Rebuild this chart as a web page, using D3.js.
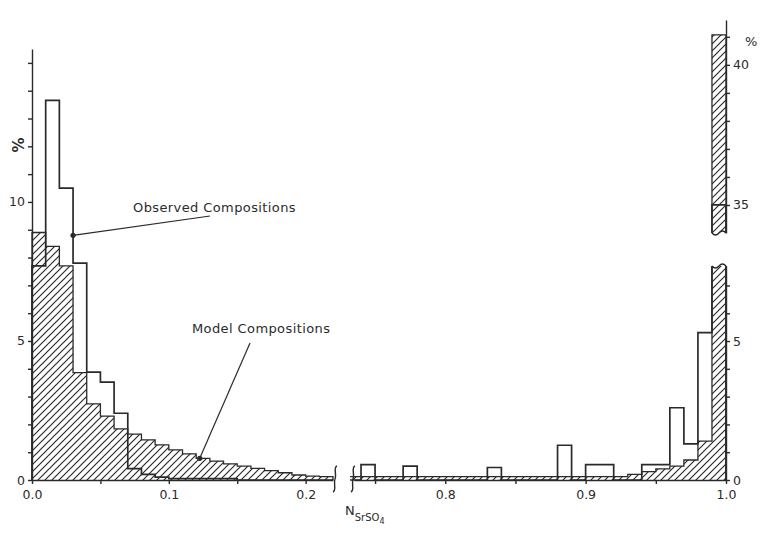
<!DOCTYPE html>
<html>
<head>
<meta charset="utf-8">
<script src="https://cdn.jsdelivr.net/npm/d3@7"></script>
<style>
  body { margin: 0; background: #fff; }
  text { font-family: "DejaVu Sans", sans-serif; fill: #2b2b2b; }
</style>
</head>
<body>
<svg width="761" height="535"></svg>
<script>
// bins are 0.01 wide, listed by their lower edge
const leftStart = 0.00;
const modelLeft = [8.9, 8.4, 7.7, 3.86, 2.74, 2.3, 1.84, 1.65, 1.44, 1.26, 1.08,
                   0.94, 0.78, 0.68, 0.58, 0.5, 0.42, 0.34, 0.26, 0.18, 0.14, 0.12];
const obsLeft   = [7.7, 13.65, 10.5, 7.8, 3.88, 3.52, 2.4, 0.41, 0.2, 0.1, 0.05,
                   0.05, 0.05, 0.05, 0.05, 0, 0, 0, 0, 0, 0, 0];

const rightStart = 0.73;
const modelRight = [0.12, 0.12, 0.12, 0.12, 0.12, 0.12, 0.12, 0.12, 0.12, 0.12,
                    0.12, 0.12, 0.12, 0.12, 0.12, 0.12, 0.12, 0.12, 0.12, 0.12,
                    0.2, 0.3, 0.4, 0.5, 0.72, 1.4, 41.07];
const obsRight   = [0, 0.55, 0, 0, 0.5, 0, 0, 0, 0, 0,
                    0.45, 0, 0, 0, 0, 1.25, 0, 0.55, 0.55, 0,
                    0, 0.55, 0.55, 2.6, 1.3, 5.3, 35];

const leftXTicks = [0, 0.05, 0.1, 0.15, 0.2];
const rightXTicks = [0.75, 0.8, 0.85, 0.9, 0.95, 1.0];
const leftYTicks = d3.range(0, 16);
const lowYTicks = d3.range(0, 8);
const upYTicks = [35, 36, 37, 38, 39, 40, 41];
const yLabels = [0, 5, 10, 35, 40];

const ink = '#2a2a2a';
const svg = d3.select('svg');
const baseY = 480;

const xL = d3.scaleLinear().domain([0, 0.22]).range([32, 333]);
const xR = d3.scaleLinear().domain([0.735, 1.0]).range([354, 726]);
const yL = d3.scaleLinear().domain([0, 15.5]).range([baseY, 49]);
const yLow = d3.scaleLinear().domain([0, 7.7]).range([baseY, 266]);
const yUp = d3.scaleLinear().domain([34, 41.6]).range([233, 20]);

const defs = svg.append('defs');
defs.append('pattern')
    .attr('id', 'hatch')
    .attr('patternUnits', 'userSpaceOnUse')
    .attr('width', 7).attr('height', 7)
  .append('path')
    .attr('d', 'M-1,1 l2,-2 M0,7 l7,-7 M6,8 l2,-2')
    .attr('stroke', ink)
    .attr('stroke-width', 1.2);

const clip = (id, x, y, w, h) => {
  defs.append('clipPath').attr('id', id)
    .append('rect').attr('x', x).attr('y', y).attr('width', w).attr('height', h);
}
clip('cl', 30, 0, 305, 500);
clip('clow', 350, yLow(7.7), 390, 250);
clip('cup', 690, 0, 60, yUp(34));

const stepPoints = (start, vals) => {
  const pts = [[start, 0]];
  vals.forEach((v, i) => pts.push([start + i * 0.01, v]));
  pts.push([start + vals.length * 0.01, vals[vals.length - 1]]);
  pts.push([start + vals.length * 0.01, 0]);
  return pts;
}

const drawHist = (id, x, y, start, model, obs) => {
  const g = svg.append('g').attr('clip-path', `url(#${id})`);
  const mp = stepPoints(start, model);
  g.append('path')
   .attr('d', d3.area().curve(d3.curveStepAfter)
      .x(d => x(d[0])).y0(y(0)).y1(d => y(d[1]))(mp))
   .attr('fill', 'url(#hatch)');
  g.append('path')
   .attr('d', d3.line().curve(d3.curveStepAfter)
      .x(d => x(d[0])).y(d => y(d[1]))(mp))
   .attr('fill', 'none').attr('stroke', ink).attr('stroke-width', 1.3);
  g.append('path')
   .attr('d', d3.line().curve(d3.curveStepAfter)
      .x(d => x(d[0])).y(d => y(d[1]))(stepPoints(start, obs)))
   .attr('fill', 'none').attr('stroke', ink).attr('stroke-width', 1.7);
}

drawHist('cl', xL, yL, leftStart, modelLeft, obsLeft);
drawHist('clow', xR, yLow, rightStart, modelRight, obsRight);
drawHist('cup', xR, yUp, rightStart, modelRight, obsRight);

// wavy ends where the tall bar is cut
const wave = (yy) => {
  const x0 = xR(0.99), x1 = xR(1.0);
  const w = (x1 - x0) / 2;
  svg.append('path')
     .attr('d', `M${x0},${yy} q${w / 2},4 ${w},0 t${w},0`)
     .attr('fill', '#fff').attr('stroke', ink).attr('stroke-width', 1.3);
}
wave(yUp(34));
wave(yLow(7.7));

const styleAxis = g => {
  g.selectAll('path, line').attr('stroke', ink).attr('stroke-width', 1.4);
  g.selectAll('text').attr('fill', '#2b2b2b').style('font-size', '12.5px')
   .style('font-family', '"DejaVu Sans", sans-serif');
}

const fmtX = d => [0, 0.1, 0.2, 0.8, 0.9, 1.0].some(v => Math.abs(v - d) < 1e-9) ? d.toFixed(1) : '';
const fmtY = d => yLabels.includes(d) ? d : '';

svg.append('g')
   .attr('transform', `translate(0, ${baseY})`)
   .call(d3.axisBottom(xL).tickValues(leftXTicks).tickSize(4).tickSizeOuter(0).tickFormat(fmtX).tickPadding(6))
   .call(styleAxis);
svg.append('g')
   .attr('transform', `translate(0, ${baseY})`)
   .call(d3.axisBottom(xR).tickValues(rightXTicks).tickSize(4).tickSizeOuter(0).tickFormat(fmtX).tickPadding(6))
   .call(styleAxis);

svg.append('g')
   .attr('transform', `translate(${xL(0)}, 0)`)
   .call(d3.axisLeft(yL).tickValues(leftYTicks).tickSize(4).tickSizeOuter(0).tickFormat(fmtY))
   .call(styleAxis);
svg.append('g')
   .attr('transform', `translate(${xR(1.0)}, 0)`)
   .call(d3.axisRight(yLow).tickValues(lowYTicks).tickSize(4).tickSizeOuter(0).tickFormat(fmtY))
   .call(styleAxis);
svg.append('g')
   .attr('transform', `translate(${xR(1.0)}, 0)`)
   .call(d3.axisRight(yUp).tickValues(upYTicks).tickSize(4).tickSizeOuter(0).tickFormat(fmtY))
   .call(styleAxis);

// axis break marks
[xL(0.22) + 2, xR(0.735) - 1].forEach(bx => {
  svg.append('path')
     .attr('d', `M${bx + 2},466 C${bx - 2},467 ${bx + 2},475 ${bx},479 C${bx - 2},483 ${bx + 2},490 ${bx - 2},492`)
     .attr('fill', 'none').attr('stroke', ink).attr('stroke-width', 1.4);
});

svg.append('text')
   .attr('transform', 'translate(12, 145) rotate(90)')
   .attr('text-anchor', 'middle')
   .style('font-size', '15px').style('font-weight', 'bold')
   .text('%');
svg.append('text')
   .attr('x', 745).attr('y', 46)
   .style('font-size', '13px')
   .text('%');

const xlab = svg.append('text').attr('x', 345).attr('y', 515);
xlab.append('tspan').style('font-size', '13px').text('N');
xlab.append('tspan').attr('dy', 6).style('font-size', '10px').text('SrSO');
xlab.append('tspan').attr('dy', 3).style('font-size', '8px').text('4');

// annotations
const obsDot = [xL(0.03), yL(8.8)];
const modDot = [xL(0.1226), yL(0.78)];
svg.append('line')
   .attr('x1', obsDot[0]).attr('y1', obsDot[1]).attr('x2', 210).attr('y2', 216)
   .attr('stroke', ink).attr('stroke-width', 1.2);
svg.append('line')
   .attr('x1', modDot[0]).attr('y1', modDot[1]).attr('x2', 250).attr('y2', 343)
   .attr('stroke', ink).attr('stroke-width', 1.2);
[obsDot, modDot].forEach(p => {
  svg.append('circle').attr('cx', p[0]).attr('cy', p[1]).attr('r', 2.6).attr('fill', ink);
});
svg.append('text')
   .attr('x', 133).attr('y', 212)
   .style('font-size', '13px').style('letter-spacing', '0.4px')
   .text('Observed  Compositions');
svg.append('text')
   .attr('x', 192).attr('y', 333)
   .style('font-size', '13px').style('letter-spacing', '0.4px')
   .text('Model  Compositions');
</script>
</body>
</html>
